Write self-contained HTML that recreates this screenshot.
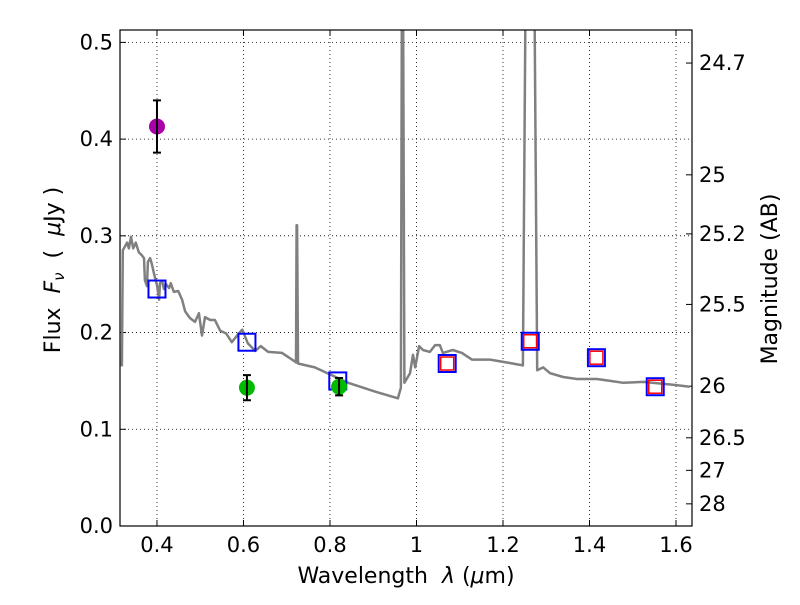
<!DOCTYPE html>
<html><head><meta charset="utf-8"><style>
body{margin:0;background:#fff;}
svg text{font-family:"DejaVu Sans","Liberation Sans",sans-serif;white-space:pre;}
</style></head><body>
<svg id="c" width="800" height="600" xmlns="http://www.w3.org/2000/svg"></svg>
<script>
const specWave=[0.319,0.321,0.331,0.335,0.340,0.345,0.351,0.358,0.365,0.370,0.372,0.377,0.379,0.384,0.388,0.393,0.400,0.405,0.407,0.412,0.416,0.421,0.428,0.432,0.439,0.449,0.458,0.465,0.476,0.488,0.497,0.504,0.511,0.523,0.534,0.546,0.560,0.573,0.587,0.597,0.610,0.627,0.640,0.657,0.689,0.719,0.7215,0.7227,0.724,0.726,0.765,0.842,0.904,0.957,0.964,0.9665,0.967,0.9685,0.972,0.985,0.992,0.997,1.006,1.015,1.031,1.043,1.054,1.061,1.084,1.105,1.128,1.170,1.209,1.246,1.253,1.272,1.279,1.293,1.309,1.339,1.371,1.417,1.448,1.478,1.524,1.593,1.632];
const specFlux=[0.165,0.285,0.293,0.287,0.299,0.287,0.293,0.283,0.280,0.277,0.254,0.248,0.273,0.277,0.271,0.261,0.249,0.234,0.251,0.253,0.245,0.250,0.246,0.251,0.242,0.243,0.234,0.222,0.215,0.211,0.220,0.197,0.216,0.213,0.213,0.202,0.199,0.190,0.198,0.203,0.189,0.181,0.186,0.180,0.179,0.170,0.169,0.311,0.311,0.168,0.164,0.148,0.139,0.132,0.143,0.6,0.6,0.6,0.148,0.158,0.177,0.164,0.186,0.182,0.180,0.187,0.187,0.179,0.182,0.179,0.172,0.172,0.169,0.166,0.6,0.6,0.161,0.164,0.158,0.154,0.152,0.152,0.150,0.148,0.149,0.146,0.144];
const modelWave=[0.4,0.608,0.818,1.071,1.263,1.416,1.552];
const modelFlux=[0.245,0.190,0.150,0.168,0.191,0.174,0.144];
const redWave=[1.071,1.263,1.416,1.552];
const redFlux=[0.168,0.191,0.174,0.144];
const obsWave=[0.4,0.608,0.821];
const obsFlux=[0.413,0.143,0.144];
const obsErr=[0.027,0.013,0.009];
const obsColor=['#aa00aa','#00bb00','#00bb00'];
const xTicks=[0.4,0.6,0.8,1,1.2,1.4,1.6];
const xTickLabels=['0.4','0.6','0.8','1','1.2','1.4','1.6'];
const yTicks=[0,0.1,0.2,0.3,0.4,0.5];
const yTickLabels=['0.0','0.1','0.2','0.3','0.4','0.5'];
const magTicks=[24.7,25,25.2,25.5,26,26.5,27,28];
const magLabels=['24.7','25','25.2','25.5','26','26.5','27','28'];

const L=120,R=692,T=30,B=526;
const xmin=0.3145,xmax=1.637,ymin=0,ymax=0.5128;
const X=v=>L+(v-xmin)/(xmax-xmin)*(R-L);
const Y=v=>B-(v-ymin)/(ymax-ymin)*(B-T);
const svg=document.getElementById('c');
const NS='http://www.w3.org/2000/svg';
function mk(tag,attrs,parent){const e=document.createElementNS(NS,tag);for(const k in attrs)e.setAttribute(k,attrs[k]);(parent||svg).appendChild(e);return e;}
const clip=mk('clipPath',{id:'pc'});mk('rect',{x:L,y:T,width:R-L,height:B-T},clip);
xTicks.forEach((t,i)=>{const g=mk('line',{x1:X(t),x2:X(t),y1:T,y2:B,stroke:'#000','stroke-width':0.8,'stroke-dasharray':'1,3'});


mk('line',{x1:X(t),x2:X(t),y1:B,y2:B-6,stroke:'#000'});mk('line',{x1:X(t),x2:X(t),y1:T,y2:T+6,stroke:'#000'});
const tx=mk('text',{x:X(t),y:B+26,'text-anchor':'middle','font-size':21});tx.textContent=xTickLabels[i];

});
yTicks.forEach((t,i)=>{const g=mk('line',{x1:L,x2:R,y1:Y(t),y2:Y(t),stroke:'#000','stroke-width':0.8,'stroke-dasharray':'1,3'});


mk('line',{x1:L,x2:L+6,y1:Y(t),y2:Y(t),stroke:'#000'});
const tx=mk('text',{x:L-7,y:Y(t)+7,'text-anchor':'end','font-size':21});tx.textContent=yTickLabels[i];

});
magTicks.forEach((m,i)=>{const f=Math.pow(10,(23.9-m)/2.5);mk('line',{x1:R-6,x2:R,y1:Y(f),y2:Y(f),stroke:'#000'});
const tx=mk('text',{x:R+7,y:Y(f)+7,'font-size':21});tx.textContent=magLabels[i];

});
const pts=specWave.map((w,i)=>X(w).toFixed(1)+','+Y(specFlux[i]).toFixed(1)).join(' ');
const sp=mk('polyline',{points:pts,fill:'none',stroke:'#808080','stroke-width':2.5,'clip-path':'url(#pc)','stroke-linejoin':'round'});


modelWave.forEach((w,i)=>{const s=mk('rect',{x:X(w)-8.5,y:Y(modelFlux[i])-8.5,width:17,height:17,fill:'none',stroke:'#0000ff','stroke-width':2});

});
redWave.forEach((w,i)=>{const s=mk('rect',{x:X(w)-6.5,y:Y(redFlux[i])-6.5,width:13,height:13,fill:'none',stroke:'#ff0000','stroke-width':1.5});

});
obsWave.forEach((w,i)=>{const c=mk('circle',{cx:X(w),cy:Y(obsFlux[i]),r:8,fill:obsColor[i]});


const x=X(w),y1=Y(obsFlux[i]+obsErr[i]),y2=Y(obsFlux[i]-obsErr[i]);
const e=mk('path',{d:`M${x},${y1}V${y2}M${x-4},${y1}H${x+4}M${x-4},${y2}H${x+4}`,stroke:'#000','stroke-width':2,fill:'none'});

});
const fr=mk('rect',{x:L,y:T,width:R-L,height:B-T,fill:'none',stroke:'#000','stroke-width':1.2});


const xl=mk('text',{x:406,y:583,'text-anchor':'middle','font-size':22});xl.innerHTML='Wavelength  <tspan font-style="italic">λ</tspan> (<tspan font-style="italic">μ</tspan>m)';


const yl=mk('text',{transform:'translate(60,270) rotate(-90)','text-anchor':'middle','font-size':22});yl.innerHTML='Flux  <tspan font-style="italic">F</tspan><tspan font-style="italic" font-size="15" dy="4">ν</tspan><tspan dy="-4">  (  </tspan><tspan font-style="italic">μ</tspan>Jy )';


const yr=mk('text',{transform:'translate(777,279) rotate(-90)','text-anchor':'middle','font-size':22});yr.textContent='Magnitude (AB)';


</script>
</body></html>
